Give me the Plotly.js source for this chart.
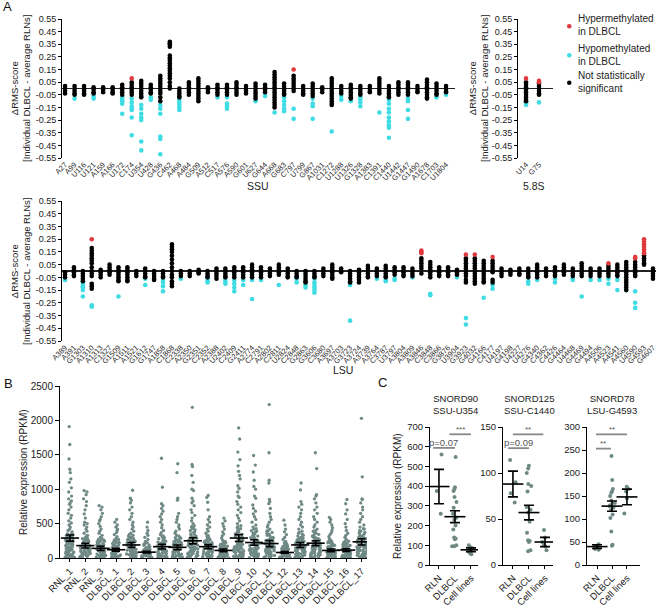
<!DOCTYPE html>
<html><head><meta charset="utf-8">
<script src="https://cdn.plot.ly/plotly-3.0.1.min.js"></script>
<style>html,body{margin:0;padding:0;background:#fff}#chart{width:658px;height:608px}</style>
</head><body><div id="chart"></div>
<script>
// ---------- Panel A data ----------
const ssuLabels = ['A27','A99','U116','U121','A159','A166','U172','C174','U354','U428','G436','C462','A468','A484','G509','A512','C517','A576','A590','G601','U627','G644','A668','G683','C797','U799','G867','A1031','C1272','U1288','U1326','G1328','A1383','C1391','C1440','U1442','G1447','G1490','A1678','C1703','U1804'];
const ssuNotSig = [
[0.02,0,-0.02,-0.04],[0.02,0,-0.02,-0.04,-0.05],[0.02,0,-0.02,-0.04,-0.05],[0.01,-0.01,-0.03,-0.04],[0.01,-0.01,-0.03],
[0.01,-0.01,-0.03,-0.04],[0.03,0.01,-0.01,-0.03,-0.05],[0.05,0.03,0.01,-0.01,-0.03,-0.05],[0.06,0.04,0.02,0,-0.02,-0.04,-0.06,-0.07],[0.03,0.01,-0.01,-0.03,-0.04],
[0.1,0.08,0.06,0.04,0.02,0,-0.02,-0.04,-0.07,-0.1],[0.37,0.36,0.35,0.33,0.26,0.24,0.22,0.2,0.18,0.16,0.14,0.12,0.1,0.08,0.05,0.02,0],[0,-0.02,-0.04,-0.06,-0.07],[0.05,0.03,0.01,-0.01,-0.03,-0.05],[0.08,0.06,0.04,0.02,0,-0.02,-0.04,-0.06,-0.08,-0.1],
[0.01,-0.01,-0.03],[0.03,0.01,-0.01,-0.03,-0.05],[0.03,0.01,-0.01,-0.03,-0.05],[0.05,0.03,0.01,-0.01,-0.03,-0.05],[0.02,0,-0.02,-0.04],
[0.04,0.02,0,-0.02,-0.04,-0.06,-0.08],[0.03,0.01,-0.01,-0.03],[0.13,0.11,0.09,0.07,0.05,0.03,0.01,-0.01,-0.03,-0.05,-0.07,-0.09,-0.11,-0.13,-0.15],[0.04,0.02,0,-0.02,-0.04,-0.05],[0.1,0.08,0.06,0.04,0.02,0,-0.02],
[0.02,0,-0.02,-0.04,-0.05],[0.04,0.02,0,-0.02,-0.04,-0.06],[0.01,-0.01,-0.03],[0.08,0.06,0.04,0.02,0,-0.02,-0.04,-0.06,-0.08,-0.1,-0.12,-0.13],[0.02,0,-0.02,-0.04],
[0.03,0.01,-0.01,-0.03,-0.05,-0.07,-0.08],[0.02,0,-0.02,-0.04,-0.05],[0.02,0,-0.02,-0.03],[0.08,0.06,0.04,0.02,0,-0.02,-0.04],[0.02,0,-0.02,-0.04,-0.06,-0.07],
[0.05,0.03,0.01,-0.01,-0.03,-0.05],[0.05,0.03,0.01,-0.01,-0.03,-0.05],[0.02,0,-0.02,-0.03],[0.07,0.05,0.03,0.01,-0.01,-0.03,-0.05,-0.07,-0.08],[0.04,0.02,0,-0.02,-0.04,-0.05],
[0.02,0,-0.02,-0.03]];
const ssuHypo = [
[],[-0.08],[],[-0.06,-0.08],[],[],[-0.07,-0.09,-0.1,-0.12,-0.2],[-0.08,-0.11,-0.14,-0.16,-0.17,-0.23,-0.37],[-0.13,-0.16,-0.2,-0.23,-0.25,-0.42,-0.49],[-0.07,-0.09],
[-0.13,-0.16,-0.2,-0.38,-0.4,-0.52],[],[-0.09,-0.11,-0.13,-0.15,-0.17],[],[],[],[-0.07],[-0.07,-0.12,-0.14,-0.16],[],[],
[-0.1],[-0.06],[-0.19],[-0.07,-0.1,-0.13,-0.16,-0.18],[-0.16,-0.24],[],[-0.08,-0.12,-0.14,-0.24],[],[-0.34],[-0.06,-0.09],
[-0.1],[-0.07,-0.09,-0.11,-0.14],[],[-0.19],[-0.09,-0.12,-0.16,-0.19,-0.23,-0.26,-0.29,-0.31,-0.39],[],[-0.08,-0.1,-0.17,-0.24],[],[],[-0.07],
[-0.05]];
const ssuHyper = [[],[],[],[],[],[],[],[0.08],[],[],[],[],[],[],[],[],[],[],[],[],[],[],[],[],[0.15],[],[],[],[],[],[],[],[],[],[],[],[],[],[],[],[]];

const r58Labels = ['U14','G75'];
const r58NotSig = [[0.05,0.03,0.01,-0.01,-0.03,-0.05,-0.07,-0.09,-0.1],[0.04,0.02,0,-0.02,-0.04,-0.05]];
const r58Hypo = [[-0.11,-0.12,-0.13],[-0.11]];
const r58Hyper = [[0.08],[0.05,0.06]];

const lsuLabels = ['A389','A391','G1303','A1310','A1313','C1327','G1509','A1511','A1521','G1612','G1747','A1858','C1868','C2338','A2350','G2351','C2352','A2388','U2402','C2409','G2411','A2774','C2791','A2802','C2811','U2824','C2848','G2863','G3606','C3680','A3697','A3703','G3723','A3724','A3739','A3764','C3787','U3797','A3804','A3809','A3846','C3848','C3866','G3876','U3904','G3923','G4032','G4166','C4177','U4197','G4198','U4227','U4276','G4340','C4362','C4426','G4464','U4468','G4469','G4494','A4506','A4523','A4541','A4560','U4590','G4593','G4607'];
const lsuNotSig = [
[-0.01,-0.03,-0.05],[0.03,0.01,-0.01,-0.03,-0.04],[0,-0.02,-0.04,-0.06,-0.08],[0.18,0.16,0.14,0.12,0.1,0.08,0.06,0.03,0,-0.02,-0.04,-0.1,-0.12,-0.14],[0.01,-0.01,-0.03,-0.05],
[0.05,0.03,0.01,-0.01,-0.03],[0.03,0.01,-0.01,-0.03,-0.05,-0.07,-0.08],[0.03,0.01,-0.01,-0.03,-0.05,-0.07,-0.08],[0,-0.02,-0.04],[0.02,0,-0.02,-0.04,-0.05],
[0,-0.02,-0.04,-0.06,-0.07],[0,-0.02,-0.04,-0.05],[0.21,0.19,0.17,0.15,0.12,0.09,0.06,0.03,0,-0.03,-0.05,-0.08,-0.1,-0.12],[0,-0.02,-0.04],[0,-0.02,-0.04],
[0.01,-0.01,-0.02],[0,-0.02,-0.04,-0.05],[0.02,0,-0.02,-0.04,-0.06],[0.02,0,-0.02,-0.04,-0.05],[0.03,0.01,-0.01,-0.03,-0.05],
[0.03,0.01,-0.01,-0.03,-0.05],[0.05,0.03,0.01,-0.01,-0.03,-0.05],[0.03,0.01,-0.01,-0.03,-0.05],[0.02,0,-0.02,-0.04],[0.05,0.03,0.01,-0.01,-0.03],
[0.02,0,-0.02,-0.04,-0.05],[0,-0.02,-0.04,-0.05],[0,-0.02,-0.04,-0.06,-0.08,-0.09],[0,-0.02,-0.04,-0.05],[0.02,0,-0.02,-0.04],
[0.05,0.03,0.01,-0.01,-0.03,-0.05,-0.06],[0.02,0,-0.01],[0,-0.02,-0.04,-0.06,-0.08,-0.09],[0.01,-0.01,-0.03,-0.05,-0.07,-0.09],[0.04,0.02,0,-0.02,-0.04,-0.05],
[0.02,0,-0.02,-0.04],[0.04,0.02,0,-0.02,-0.04,-0.05],[0.03,0.01,-0.01,-0.03],[0.03,0.01,-0.01,-0.03,-0.04],[0.02,0,-0.02,-0.04],
[0.1,0.08,0.06,0.04,0.02,-0.02],[0.07,0.05,0.03,0.01,-0.01,-0.03,-0.05],[0.03,0.01,-0.01,-0.03,-0.04],[0.03,0.01,-0.01,-0.03,-0.04],[0.01,-0.01,-0.03],
[0.1,0.08,0.06,0.04,0.02,0,-0.02,-0.04,-0.07,-0.09],[0.1,0.08,0.06,0.04,0.02,0,-0.02,-0.04,-0.06,-0.08,-0.1],[0.08,0.06,0.04,0.02,0,-0.02,-0.04,-0.06,-0.08,-0.09],[0.08,0.06,0.04,0.02,0,-0.01,-0.07,-0.09],[0.02,0,-0.02,-0.04],
[0.01,-0.01,-0.03],[0.02,0,-0.02,-0.03],[0.02,0,-0.02,-0.04,-0.05],[0.05,0.03,0.01,-0.01,-0.03,-0.05],[0.02,0,-0.02,-0.04],
[0.03,0.01,-0.01,-0.03,-0.04],[0.05,0.03,0.01,-0.01,-0.03],[0.02,0,-0.02,-0.04],[0.06,0.04,0.02,0,-0.02,-0.04],[0.02,0,-0.02,-0.04],
[0.02,0,-0.02,-0.04],[0.04,0.02,0,-0.02,-0.04],[0.05,0.03,0.01,-0.01,-0.03,-0.04],[0.07,0.05,0.03,0.01,-0.01,-0.03,-0.05,-0.07,-0.09,-0.11,-0.13,-0.15],[0.07,0.05,0.03,0.01,-0.01,-0.03,-0.04],
[0.12,0.1,0.08,0.06,0.05],[0.02,0,-0.02,-0.04,-0.06]];
const lsuHypo = [
[-0.07],[],[-0.08,-0.1,-0.12,-0.13,-0.15,-0.2],[-0.27,-0.28],[],[],[-0.2],[],[],[-0.06,-0.11],
[],[-0.07,-0.09,-0.12,-0.16],[],[-0.06],[],[],[-0.06,-0.08,-0.09],[],[-0.07,-0.09,-0.1],[-0.07,-0.1,-0.13,-0.16],
[-0.07,-0.11],[-0.07,-0.22],[-0.07],[],[-0.11],[],[-0.06,-0.09],[-0.11,-0.13],[-0.06,-0.09,-0.11,-0.13,-0.15,-0.17],[],
[],[],[-0.1,-0.11,-0.39],[],[],[-0.06],[-0.07,-0.08],[-0.06,-0.07],[],[-0.05],
[],[-0.18,-0.19],[],[],[-0.05],[-0.37,-0.42],[],[-0.21],[-0.11,-0.14],[],
[],[],[-0.08,-0.1],[-0.07],[],[-0.06,-0.09],[],[-0.06,-0.07],[-0.2],[-0.07],
[-0.07],[-0.06,-0.1],[-0.07,-0.15],[-0.15],[-0.16,-0.25,-0.29],[],[]];
const lsuHyper = [
[],[],[],[0.25],[],[],[],[],[],[],[],[],[],[],[],[],[],[],[],[],
[],[],[],[],[],[],[],[],[],[],[],[],[],[],[],[],[],[],[],[],
[0.14,0.15,0.16],[],[],[],[],[0.13],[0.13],[],[0.11],[],[],[],[],[],[],[],[],[],[],[],
[],[0.06],[],[],[0.1,0.11],[0.25,0.23,0.21,0.19,0.17,0.15,0.14],[]];
const yTicksA = [0.55,0.45,0.35,0.25,0.15,0.05,-0.05,-0.15,-0.25,-0.35,-0.45,-0.55];
const yTickTextA = ['0.55','0.45','0.35','0.25','0.15','0.05','-0.05','-0.15','-0.25','-0.35','-0.45','-0.55'];

// ---------- Panel B data ----------
const bLabels = ['RNL_1','RNL_2','RNL_3','DLBCL_1','DLBCL_2','DLBCL_3','DLBCL_4','DLBCL_5','DLBCL_6','DLBCL_7','DLBCL_8','DLBCL_9','DLBCL_10','DLBCL_11','DLBCL_12','DLBCL_13','DLBCL_14','DLBCL_15','DLBCL_16','DLBCL_17'];
const bPoints = [
[1910,1650,1440,1290,1240,1150,1100,1020,960,900,860,830,800,780,740,700,650,620,580,540,510,480,450,420,400,380,350,330,310,290,270,250,230,210,190,170,150,130,110,90,70,55,40,30,20,12,5],
[980,960,920,860,820,760,700,640,580,520,500,480,450,420,390,360,330,300,280,260,240,220,200,180,160,140,120,100,85,70,55,40,28,18,8],
[760,740,700,650,600,560,540,500,460,420,390,360,330,300,270,250,230,210,190,170,150,130,110,95,80,65,50,38,25,15,6],
[560,520,480,450,420,400,370,340,310,290,270,250,230,210,190,170,150,130,115,100,85,70,58,45,33,22,12,5],
[985,870,840,800,740,700,650,600,560,520,480,450,420,390,360,330,300,280,260,240,220,200,180,160,140,120,100,85,70,55,40,28,16,6],
[520,450,400,360,330,300,270,240,210,190,170,150,130,110,95,80,65,52,40,30,20,12,5],
[1450,1030,790,760,720,680,640,600,560,520,480,440,400,370,340,310,280,250,230,210,190,170,150,130,110,95,80,65,50,38,26,15,6],
[1370,1240,870,840,650,600,560,520,480,450,420,390,360,330,300,270,250,230,210,190,170,150,130,110,95,80,65,50,38,26,15,6],
[2190,1360,1330,1200,1100,1000,980,870,830,800,760,700,660,620,580,540,500,470,440,410,380,350,320,300,280,260,240,220,200,180,160,140,120,100,85,70,55,40,28,16,6],
[910,880,810,700,600,560,520,480,450,420,390,360,330,300,270,250,230,210,190,170,150,130,110,95,80,65,50,38,26,15,6],
[580,540,500,460,420,380,350,320,290,260,240,220,200,180,160,140,120,100,85,70,58,45,33,22,12,5],
[1890,1730,1540,1430,1340,1260,1200,1150,1050,1010,960,900,880,820,780,740,700,660,620,580,540,500,470,440,410,380,350,320,300,280,260,240,220,200,180,160,140,120,100,85,70,55,40,28,16,6],
[1490,1350,1250,1130,1040,1000,900,870,770,720,680,640,600,560,520,480,450,420,390,360,330,300,280,260,240,220,200,180,160,140,120,100,85,70,55,40,28,16,6],
[2230,1530,1130,1090,850,820,790,720,650,600,560,520,480,450,420,390,360,330,300,270,250,230,210,190,170,150,130,110,95,80,65,50,38,26,15,6],
[550,480,420,380,340,300,270,240,210,190,170,150,130,110,95,80,65,52,40,30,20,12,5],
[1090,990,820,780,740,700,650,600,560,520,480,450,420,390,360,330,300,280,260,240,220,200,180,160,140,120,100,85,70,55,40,28,16,6],
[1530,1300,920,900,860,800,740,700,650,600,560,520,480,450,420,390,360,330,300,280,260,240,220,200,180,160,140,120,100,85,70,55,40,28,16,6],
[590,560,520,480,440,400,370,340,310,280,260,240,220,200,180,160,140,120,100,85,70,58,45,33,22,12,5],
[850,790,700,640,560,500,450,400,360,330,300,270,240,210,190,170,150,130,110,95,80,65,52,40,30,20,12,5],
[2030,1180,860,850,800,740,700,650,600,560,520,480,450,420,390,360,330,300,280,260,240,220,200,180,160,140,120,100,85,70,55,40,28,16,6]];
// the dense low band of each column (read as a solid gray block in the picture)
const bPointsDense = [
[352,338,327,318,301,296,283,274,262,257,244,238,226,219,203,198,186,177,163,158,144,137,126,118,104,97,86,78,63,48,36,24,14,9,3],
[318,296,287,266,254,243,231,214,206,193,187,174,163,152,146,133,126,114,107,96,88,77,66,58,47,35,24,13,4],
[285,262,244,236,222,203,196,184,171,163,142,136,124,117,103,88,76,64,57,45,33,22,11,3],
[262,244,226,214,198,184,176,162,146,138,124,108,97,92,78,66,52,41,28,17,8,2],
[344,318,296,287,266,254,243,231,214,206,193,187,174,163,152,146,133,126,114,107,96,88,77,66,58,47,35,24,13,4],
[224,202,184,166,144,136,124,106,98,86,74,62,56,46,35,26,17,9,3],
[322,296,286,264,244,236,222,203,196,184,171,163,142,136,124,117,103,88,76,64,57,45,33,22,11,3],
[318,296,286,264,244,236,222,203,196,184,171,163,142,136,124,117,103,88,76,64,57,45,33,22,11,3],
[455,426,396,372,344,318,296,287,266,254,243,231,214,206,193,187,174,163,152,146,133,126,114,107,96,88,77,66,58,47,35,24,13,4],
[318,296,286,264,244,236,222,203,196,184,171,163,142,136,124,117,103,88,76,64,57,45,33,22,11,3],
[236,222,203,196,184,171,163,142,136,124,117,103,88,76,64,57,45,33,22,11,3],
[455,426,396,372,344,318,296,287,266,254,243,231,214,206,193,187,174,163,152,146,133,126,114,107,96,88,77,66,58,47,35,24,13,4],
[426,396,372,344,318,296,287,266,254,243,231,214,206,193,187,174,163,152,146,133,126,114,107,96,88,77,66,58,47,35,24,13,4],
[396,372,344,318,296,287,266,254,243,231,214,206,193,187,174,163,152,146,133,126,114,107,96,88,77,66,58,47,35,24,13,4],
[224,202,184,166,144,136,124,106,98,86,74,62,56,46,35,26,17,9,3],
[372,344,318,296,287,266,254,243,231,214,206,193,187,174,163,152,146,133,126,114,107,96,88,77,66,58,47,35,24,13,4],
[396,372,344,318,296,287,266,254,243,231,214,206,193,187,174,163,152,146,133,126,114,107,96,88,77,66,58,47,35,24,13,4],
[236,222,203,196,184,171,163,142,136,124,117,103,88,76,64,57,45,33,22,11,3],
[244,226,214,198,184,176,162,146,138,124,108,97,92,78,66,52,41,28,17,8,2],
[426,396,372,344,318,296,287,266,254,243,231,214,206,193,187,174,163,152,146,133,126,114,107,96,88,77,66,58,47,35,24,13,4]];
const bMean = [290,180,140,120,190,85,165,155,250,165,110,290,225,210,80,190,215,110,115,235];
const bSem = [45,35,30,20,35,12,35,35,45,30,20,50,40,45,12,35,35,20,20,45];

// ---------- Panel C data ----------
const cGroups = ['RLN','DLBCL','Cell lines'];
const c1Points = [[560,375,260],[548,395,385,375,345,320,290,260,240,230,200,180,140,135,130,100,95,95],[100,90,85,80,75,70,60,55]];
const c1Mean = [398,245,77]; const c1Sem = [87,30,10];
const c2Points = [[114,90,78,68],[108,105,100,88,86,80,63,60,57,47,35,27,26,25,16,15],[38,30,25,22,20,16]];
const c2Mean = [88,57,25]; const c2Sem = [14,8,5];
const c3Points = [[45,42,40,38,35,33],[237,185,165,160,157,150,140,135,130,128,125,120,110,102,73,44,42],[170,165,160,145,112]];
const c3Mean = [40,128,148]; const c3Sem = [4,11,17];
const cTitles = ['SNORD90<br>SSU-U354','SNORD125<br>SSU-C1440','SNORD78<br>LSU-G4593'];

// ---------- build ----------
const FONT = 'Arial, "Liberation Sans", sans-serif';
const W = 658, H = 608;
const px = v => v / W, py = v => 1 - v / H;
const CYAN = '#3fdce3', RED = '#e03a3e', DOT = '#6f8985';

function flat(labels, groups) {
  const x = [], y = [];
  groups.forEach((g, i) => g.forEach(v => { x.push(labels[i]); y.push(v); }));
  return {x, y};
}
const traces = [];
function addA(labels, notSig, hypo, hyper, xa, ya) {
  [[hypo, CYAN], [notSig, '#000'], [hyper, RED]].forEach(([g, c]) => {
    const d = flat(labels, g);
    traces.push({type:'scatter', mode:'markers', x:d.x, y:d.y, xaxis:xa, yaxis:ya,
      marker:{color:c, size:4.6}, hoverinfo:'skip', showlegend:false, cliponaxis:false});
  });
}
addA(ssuLabels, ssuNotSig, ssuHypo, ssuHyper, 'x', 'y');
addA(r58Labels, r58NotSig, r58Hypo, r58Hyper, 'x2', 'y2');
addA(lsuLabels, lsuNotSig, lsuHypo, lsuHyper, 'x3', 'y3');

function addDots(labels, pts, mean, sem, xa, ya, opts) {
  const d = flat(labels, pts);
  traces.push({type:'box', x:d.x, y:d.y, xaxis:xa, yaxis:ya, boxpoints:'all', jitter:opts.jitter, pointpos:0,
    width:opts.width, line:{width:0, color:'rgba(0,0,0,0)'}, fillcolor:'rgba(0,0,0,0)',
    marker:{color:DOT, size:opts.size}, hoverinfo:'skip', showlegend:false});
  traces.push({type:'scatter', mode:'markers', x:labels, y:mean, xaxis:xa, yaxis:ya,
    marker:{symbol:'line-ew', size:opts.mw, color:'#000', line:{width:1.6, color:'#000'}},
    error_y:{type:'data', array:sem, visible:true, color:'#000', thickness:1.6, width:opts.cap},
    hoverinfo:'skip', showlegend:false});
}
const bAll = bPoints.map((g, i) => g.concat(bPointsDense[i]));
addDots(bLabels, bAll, bMean, bSem, 'x4', 'y4', {jitter:0.95, width:0.8, size:3.3, mw:13, cap:4});
addDots(cGroups, c1Points, c1Mean, c1Sem, 'x5', 'y5', {jitter:0.7, width:0.6, size:4, mw:15, cap:5});
addDots(cGroups, c2Points, c2Mean, c2Sem, 'x6', 'y6', {jitter:0.7, width:0.6, size:4, mw:15, cap:5});
addDots(cGroups, c3Points, c3Mean, c3Sem, 'x7', 'y7', {jitter:0.7, width:0.6, size:4, mw:15, cap:5});

const yA = (dom) => ({domain:dom, range:[-0.55,0.55], tickvals:yTicksA, ticktext:yTickTextA,
  showline:true, linecolor:'#000', linewidth:1, ticks:'outside', ticklen:3, tickwidth:1, tickcolor:'#000',
  tickfont:{size:9, color:'#222'}, showgrid:false, zeroline:true, zerolinecolor:'#222', zerolinewidth:1.2, fixedrange:true});
const xA = (dom, labels, range, anchor) => ({domain:dom, type:'category', categoryorder:'array', categoryarray:labels,
  tickmode:'array', tickvals:labels, ticktext:labels,
  range:range, anchor:anchor, tickangle:-45, tickfont:{size:7.5, color:'#2a2a2a'}, showline:false, ticks:'',
  showgrid:false, zeroline:false, fixedrange:true});
const cx = (dom, range, anchor) => ({domain:dom, type:'category', categoryorder:'array', categoryarray:cGroups, range:range,
  anchor:anchor, tickangle:-45, tickfont:{size:9.5, color:'#222'}, showline:true, linecolor:'#000', ticks:'outside',
  ticklen:3, tickcolor:'#000', showgrid:false, zeroline:false});
const cy = (dom, range, dtick, anchor) => ({domain:dom, range:range, dtick:dtick, anchor:anchor, showline:true, linecolor:'#000',
  ticks:'outside', ticklen:4, tickcolor:'#000', tickfont:{size:9.5, color:'#222'}, showgrid:false, zeroline:false});

const cDom = [py(565), py(427)];
const layout = {
  width:W, height:H, margin:{l:0, r:0, t:0, b:0}, paper_bgcolor:'#fff', plot_bgcolor:'rgba(0,0,0,0)',
  font:{family:FONT, color:'#222'}, showlegend:false, boxmode:'overlay',
  xaxis: xA([px(62), px(455)], ssuLabels, [-0.32, 40.94], 'y'),
  yaxis: Object.assign(yA([py(158), py(19)]), {anchor:'x'}),
  xaxis2: xA([px(518), px(553)], r58Labels, [-0.62, 2.08], 'y2'),
  yaxis2: Object.assign(yA([py(158), py(19)]), {anchor:'x2'}),
  xaxis3: xA([px(62), px(656)], lsuLabels, [-0.34, 66.34], 'y3'),
  yaxis3: Object.assign(yA([py(341), py(201)]), {anchor:'x3'}),
  xaxis4: {domain:[px(60), px(367)], type:'category', categoryorder:'array', categoryarray:bLabels, range:[-0.65, 19.35],
    tickmode:'array', tickvals:bLabels, ticktext:bLabels,
    anchor:'y4', tickangle:-45, tickfont:{size:9.5, color:'#222'}, showline:true, linecolor:'#000', ticks:'outside', ticklen:3,
    tickcolor:'#000', showgrid:false, zeroline:false},
  yaxis4: {domain:[py(558), py(386)], range:[0, 2500], dtick:500, anchor:'x4', showline:true, linecolor:'#000', ticks:'outside',
    ticklen:4, tickcolor:'#000', tickfont:{size:10, color:'#222'}, showgrid:false, zeroline:false},
  xaxis5: cx([px(430), px(478)], [-0.56, 2.44], 'y5'),
  yaxis5: cy(cDom, [0, 700], 100, 'x5'),
  xaxis6: cx([px(503), px(553)], [-0.62, 2.5], 'y6'),
  yaxis6: cy(cDom, [0, 150], 50, 'x6'),
  xaxis7: cx([px(587), px(640)], [-0.67, 2.87], 'y7'),
  yaxis7: cy(cDom, [0, 300], 50, 'x7'),
  annotations: [], shapes: []
};
const ann = (text, x, y, o) => layout.annotations.push(Object.assign({text:text, x:x, y:y, xref:'paper', yref:'paper',
  xanchor:'center', yanchor:'middle', showarrow:false, font:{size:10, color:'#222'}}, o || {}));
// panel letters
ann('A', px(7), py(7), {font:{size:13, color:'#111'}});
ann('B', px(8), py(383), {font:{size:13, color:'#111'}});
ann('C', px(382), py(382), {font:{size:13, color:'#111'}});
// y titles
const yTitleA = 'ΔRMS-score<br>[Individual DLBCL - average RLNs]';
ann(yTitleA, px(20), py(88), {textangle:-90, font:{size:9.5, color:'#222'}});
ann(yTitleA, px(478), py(88), {textangle:-90, font:{size:9.5, color:'#222'}});
ann(yTitleA, px(20), py(271), {textangle:-90, font:{size:9.5, color:'#222'}});
ann('Relative expression (RPKM)', px(23), py(472), {textangle:-90, font:{size:10, color:'#222'}});
ann('Relative expression (RPKM)', px(397), py(496), {textangle:-90, font:{size:10, color:'#222'}});
// x titles
ann('SSU', px(258), py(186), {font:{size:10.5, color:'#222'}});
ann('5.8S', px(534), py(186), {font:{size:10.5, color:'#222'}});
ann('LSU', px(343), py(370), {font:{size:10.5, color:'#222'}});
// C titles
ann(cTitles[0], px(455), py(404), {font:{size:9.5, color:'#222'}});
ann(cTitles[1], px(529), py(404), {font:{size:9.5, color:'#222'}});
ann(cTitles[2], px(612), py(404), {font:{size:9.5, color:'#222'}});
// legend
const legItems = [['Hypermethylated<br>in DLBCL', RED, 25.5], ['Hypomethylated<br>in DLBCL', CYAN, 54.5], ['Not statistically<br>significant', '#000', 82]];
legItems.forEach(([t, c, yy]) => {
  ann(t, px(576), py(yy), {xanchor:'left', align:'left', font:{size:10, color:'#222'}});
  layout.shapes.push({type:'circle', xref:'paper', yref:'paper', x0:px(567), x1:px(571.5), y0:py(yy - 1.5), y1:py(yy + 3), fillcolor:c, line:{width:0}});
});
// significance marks in panel C
const sigLine = (xa, ya, x0, x1, y) => layout.shapes.push({type:'line', xref:xa, yref:ya, x0:x0, x1:x1, y0:y, y1:y, line:{color:'#888', width:1.8}});
const sigText = (xa, ya, x, y, t, sz) => layout.annotations.push({text:t, x:x, y:y, xref:xa, yref:ya, xanchor:'center', yanchor:'middle', showarrow:false, font:{size:sz, color:'#555'}});
sigLine('x5', 'y5', 0.65, 2.0, 663); sigText('x5', 'y5', 1.33, 688, '***', 8);
sigLine('x5', 'y5', -0.37, 1.0, 594); sigText('x5', 'y5', 0.3, 620, 'p=0.07', 9.5);
sigLine('x6', 'y6', 0.0, 1.9, 142); sigText('x6', 'y6', 0.95, 147.5, '**', 8);
sigLine('x6', 'y6', -0.3, 1.0, 127); sigText('x6', 'y6', 0.35, 133, 'p=0.09', 9.5);
sigLine('x7', 'y7', -0.07, 2.0, 284); sigText('x7', 'y7', 0.97, 295, '**', 8);
sigLine('x7', 'y7', -0.07, 0.93, 253); sigText('x7', 'y7', 0.43, 264, '**', 8);

Plotly.newPlot('chart', traces, layout, {staticPlot:true, displayModeBar:false});
</script></body></html>
